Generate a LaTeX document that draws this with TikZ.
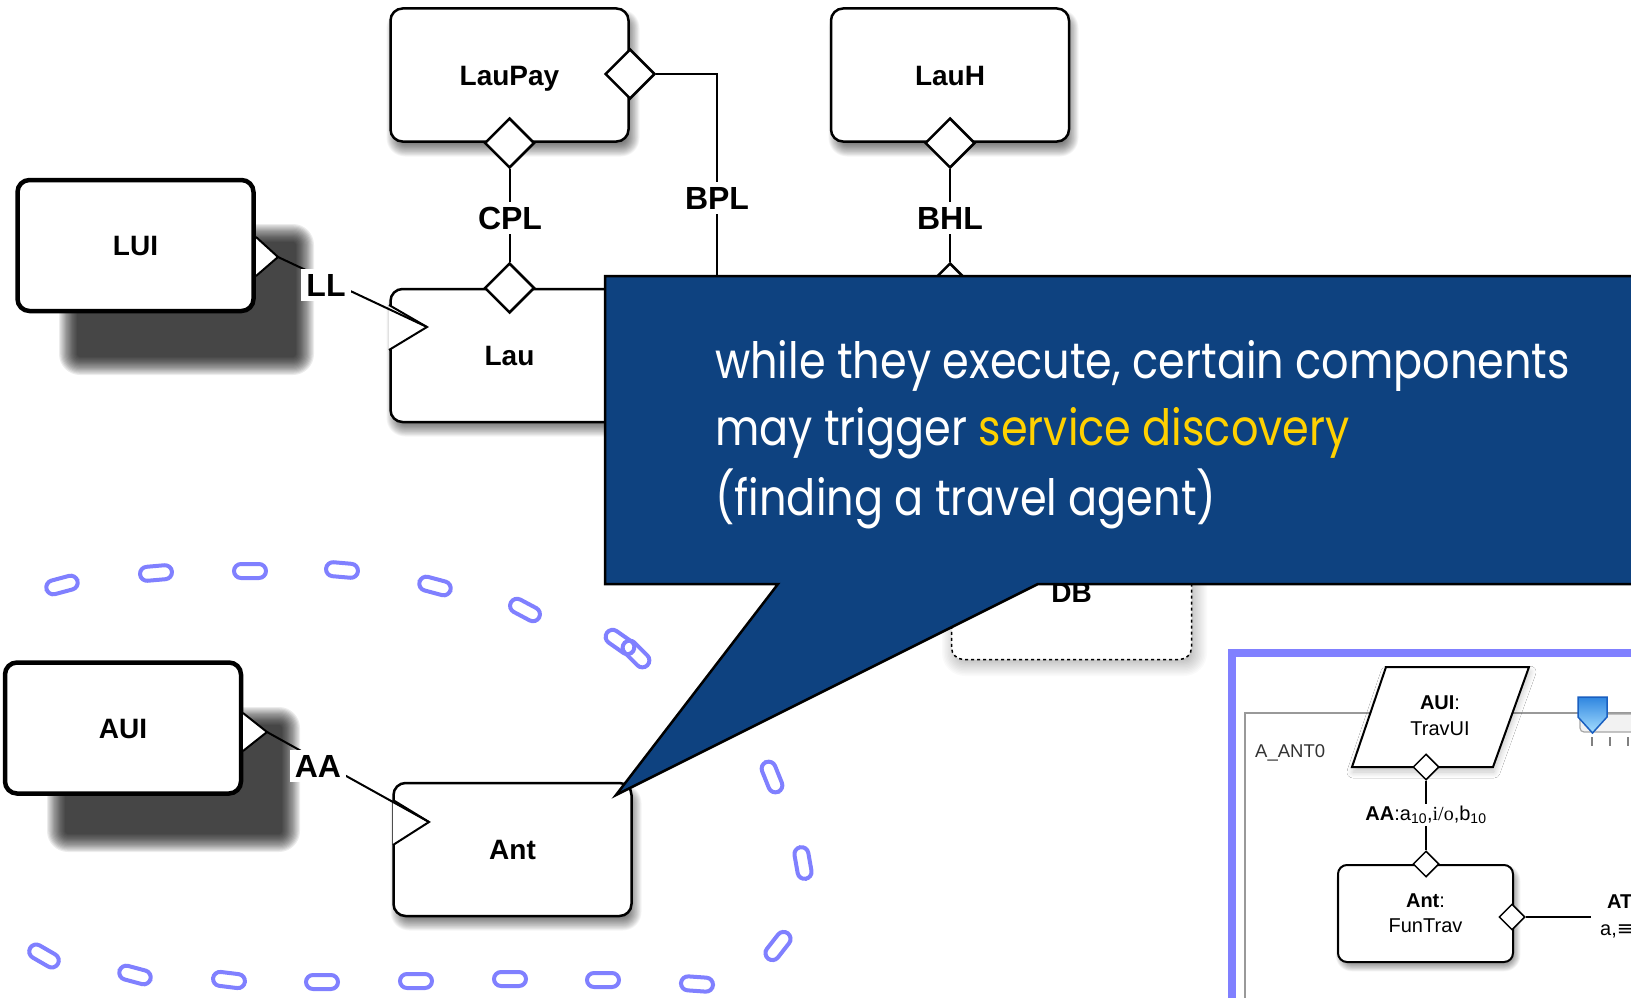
\documentclass[tikz,border=0pt]{standalone}
\usepackage{fontspec}
\setmainfont{Liberation Sans}
\newfontfamily\callfont{Poppins}[FakeStretch=0.86]
\newfontfamily\timesf{Liberation Serif}
\newfontfamily\dejavu{DejaVu Sans}
\usetikzlibrary{shapes.geometric,shadows.blur}
\definecolor{callblue}{HTML}{0E4280}
\definecolor{callyellow}{HTML}{FFD100}
\definecolor{chain}{HTML}{8080FF}
\definecolor{mkdark}{HTML}{1A5FC0}
\definecolor{mktop}{HTML}{2F86E0}
\definecolor{mkbot}{HTML}{A6DEFF}
% soft shadow: #1,#2 top-left; #3,#4 bottom-right; #5 opacity per layer; #6 blur radius
\newcommand\blurrect[6]{%
  \foreach \k in {0,...,15}{%
    \pgfmathsetmacro\e{#6*(0.5-\k/15)}%
    \pgfmathsetmacro\rc{max(1,12+\e)}%
    \fill[black, opacity=#5, rounded corners=\rc pt] (#1-\e,#2-\e) rectangle (#3+\e,#4+\e);
  }}
\tikzset{
  comp/.style={draw, line width=2.5pt, fill=white, rounded corners=12pt,
    minimum width=238pt, minimum height=133pt, inner sep=0pt,
    text height=20pt, text depth=0pt,
    font=\fontsize{28}{30}\selectfont\bfseries},
  uicomp/.style={draw, line width=4.5pt, fill=white, rounded corners=12pt,
    minimum width=236pt, minimum height=131pt, inner sep=0pt,
    text height=20pt, text depth=0pt,
    font=\fontsize{28}{30}\selectfont\bfseries},
  dbcomp/.style={draw, line width=1.5pt, dash pattern=on 3pt off 3pt, fill=white, rounded corners=12pt,
    minimum width=240pt, minimum height=135pt, inner sep=0pt,
    text height=20pt, text depth=0pt,
    font=\fontsize{28}{30}\selectfont\bfseries},
  portd/.style={diamond, draw, fill=white, line width=2.5pt, inner sep=0pt, minimum size=50pt},
  tri/.style={draw, fill=white, line width=2pt, line join=miter},
  wire/.style={draw, line width=2pt},
  lnk/.style={fill=white, inner sep=5pt, font=\fontsize{32}{34}\selectfont\bfseries},
  capsule/.style={draw=chain, line width=4pt, rounded corners=7pt, minimum width=32pt,
    minimum height=14pt, inner sep=0pt},
  callout/.style={fill=callblue, draw=black, line width=2.5pt, line join=miter},
  calltext/.style={anchor=base west, inner sep=0pt, text=white, font=\callfont\fontsize{50}{54}\selectfont},
  icomp/.style={draw, line width=2pt, fill=white, rounded corners=9pt, minimum width=175pt,
    minimum height=97pt, inner sep=0pt, align=center, font=\fontsize{20}{25}\selectfont},
  iport/.style={diamond, draw, fill=white, line width=1.5pt, inner sep=0pt, minimum size=26pt},
  iwire/.style={draw, line width=1.5pt},
}
\begin{document}
\begin{tikzpicture}[x=1pt,y=-1pt]
\useasboundingbox (0,0) rectangle (1631,998);
\fill[white] (0,0) rectangle (1631,998);
\clip (0,0) rectangle (1631,998);

% shadows
\blurrect{68}{233}{305}{366}{0.074}{18}
\blurrect{56}{716}{291}{843}{0.074}{18}
\blurrect{393}{16}{633}{150}{0.038}{13}
\blurrect{835}{16}{1072}{150}{0.038}{13}
\blurrect{393}{297}{633}{430}{0.038}{13}
\blurrect{397}{791}{635}{924}{0.038}{13}
\blurrect{953}{528}{1196}{665}{0.02}{22}
\blurrect{1340}{869}{1516}{967}{0.03}{9}

% chain of capsules
\foreach \x/\y/\a [count=\i] in {62/585/15, 156/573/5, 250/571/0, 342/570/-5, 435/586/-15,
    525/610/-28, 620/642/-35, 636/654/-45, 772/777/-68, 803/863/-80, 778/946/52,
    697/984/-4, 603/980/0, 510/979/0, 416/981/0, 322/982/0, 229/980/-7, 135/975/-15, 44/956/-30}
  \node[capsule, rotate=\a] (cap\i) at (\x,\y) {};

% components
\node[uicomp] (LUI) at (135.5,245.5) {LUI};
\node[uicomp] (AUI) at (123,728) {AUI};
\node[comp] (LauPay) at (509.5,75) {LauPay};
\node[comp] (LauH) at (950,75) {LauH};
\node[comp] (Lau) at (509.5,355.5) {Lau};
\node[comp] (Ant) at (512.5,849.5) {Ant};
\node[dbcomp] (DB) at (1071.5,592) {DB};

% diamond ports
\node[portd] (lpR) at (630,74) {};
\node[portd] (lpB) at (509.5,143) {};
\node[portd] (lhB) at (950,143) {};
\node[portd] (lauT) at (509.5,288) {};
\node[portd] (dbT) at (950,288) {};

% links
\draw[wire] (lpB) -- (lauT);
\node[lnk] (CPL) at (510,218) {CPL};
\coordinate (bplEnd) at (717,330);
\draw[wire] (lpR) -| (bplEnd);
\node[lnk] (BPL) at (717,198) {BPL};
\draw[wire] (lhB) -- (dbT);
\node[lnk] (BHL) at (950,218) {BHL};

% triangle ports and LL / AA links
\coordinate (luiTip) at (278,257);
\coordinate (lauTip) at (427,327);
\coordinate (auiTip) at (267,732);
\coordinate (antTip) at (429,822);
\draw[tri] (256,237) -- (luiTip) -- (256,276);
\draw[tri] (389,305) -- (lauTip) -- (389,350);
\draw[tri] (243,713) -- (auiTip) -- (243,751);
\draw[tri] (393,800) -- (antTip) -- (393,845);
\draw[wire] (luiTip) -- (lauTip);
\draw[wire] (auiTip) -- (antTip);
\node[lnk] (LL) at (326,285) {LL};
\node[lnk] (AA) at (318,766) {AA};

% inset panel
\draw[chain, line width=8pt] (1232,653) rectangle (1720,1120);
\draw[black!40, line width=1.5pt] (1245,713) rectangle (1720,1120);
\node[anchor=base west, inner sep=0pt, font=\fontsize{18.5}{20}\selectfont, text=black!80] (antLbl) at (1255,757) {A\_ANT0};
\draw[black!35, line width=1.2pt, rounded corners=4pt, fill=black!5] (1580,714) rectangle (1680,732);
\foreach \tx in {1592,1610,1628}
  \draw[black!50, line width=1.2pt] (\tx,737) -- (\tx,746);
\draw[draw=mkdark, line width=1.5pt, top color=mktop, bottom color=mkbot]
  (1578,697) -- (1607,697) -- (1607,717) -- (1592.5,733) -- (1578,717) -- cycle;
\draw[line width=2pt, fill=white, line join=miter,
  blur shadow={shadow xshift=1pt, shadow yshift=-5pt, shadow opacity=22, shadow blur radius=6pt, shadow blur steps=12}]
  (1386,667) -- (1529,667) -- (1493,767) -- (1352,767) -- cycle;
\node[font=\fontsize{20}{26}\selectfont, align=center, inner sep=0pt] (auiT) at (1440,716) {\textbf{AUI}:\\TravUI};
\node[icomp] (antF) at (1425.5,913.5) {\textbf{Ant}:\\FunTrav};
\node[iport] (iA) at (1426,767) {};
\node[iport] (iB) at (1426,864) {};
\node[iport] (iC) at (1512,917) {};
\draw[iwire] (iA) -- (iB);
\node[fill=white, inner sep=2pt, font=\fontsize{20}{22}\selectfont] (AAl) at (1426,815)
  {\textbf{AA}:a\textsubscript{10},{\timesf i/o},b\textsubscript{10}};
\coordinate (atEnd) at (1591,917);
\draw[iwire] (iC) -- (atEnd);
\node[anchor=base west, inner sep=0pt, font=\fontsize{20}{22}\selectfont\bfseries] (AT) at (1607,908) {AT};
\node[anchor=base west, inner sep=0pt, font=\fontsize{20}{22}\selectfont] (ATs) at (1600,935) {a,{\dejavu ≡},};

% callout
\draw[callout] (605,276) -- (1700,276) -- (1700,584) -- (1038,584) -- (616,795) -- (778,584) -- (605,584) -- cycle;
\node[calltext] (cl1) at (715,378) {while they execute, certain components};
\node[calltext] (cl2) at (715,445) {may trigger \textcolor{callyellow}{service discovery}};
\node[calltext] (cl3) at (715,515) {(finding a travel agent)};
\end{tikzpicture}
\end{document}
